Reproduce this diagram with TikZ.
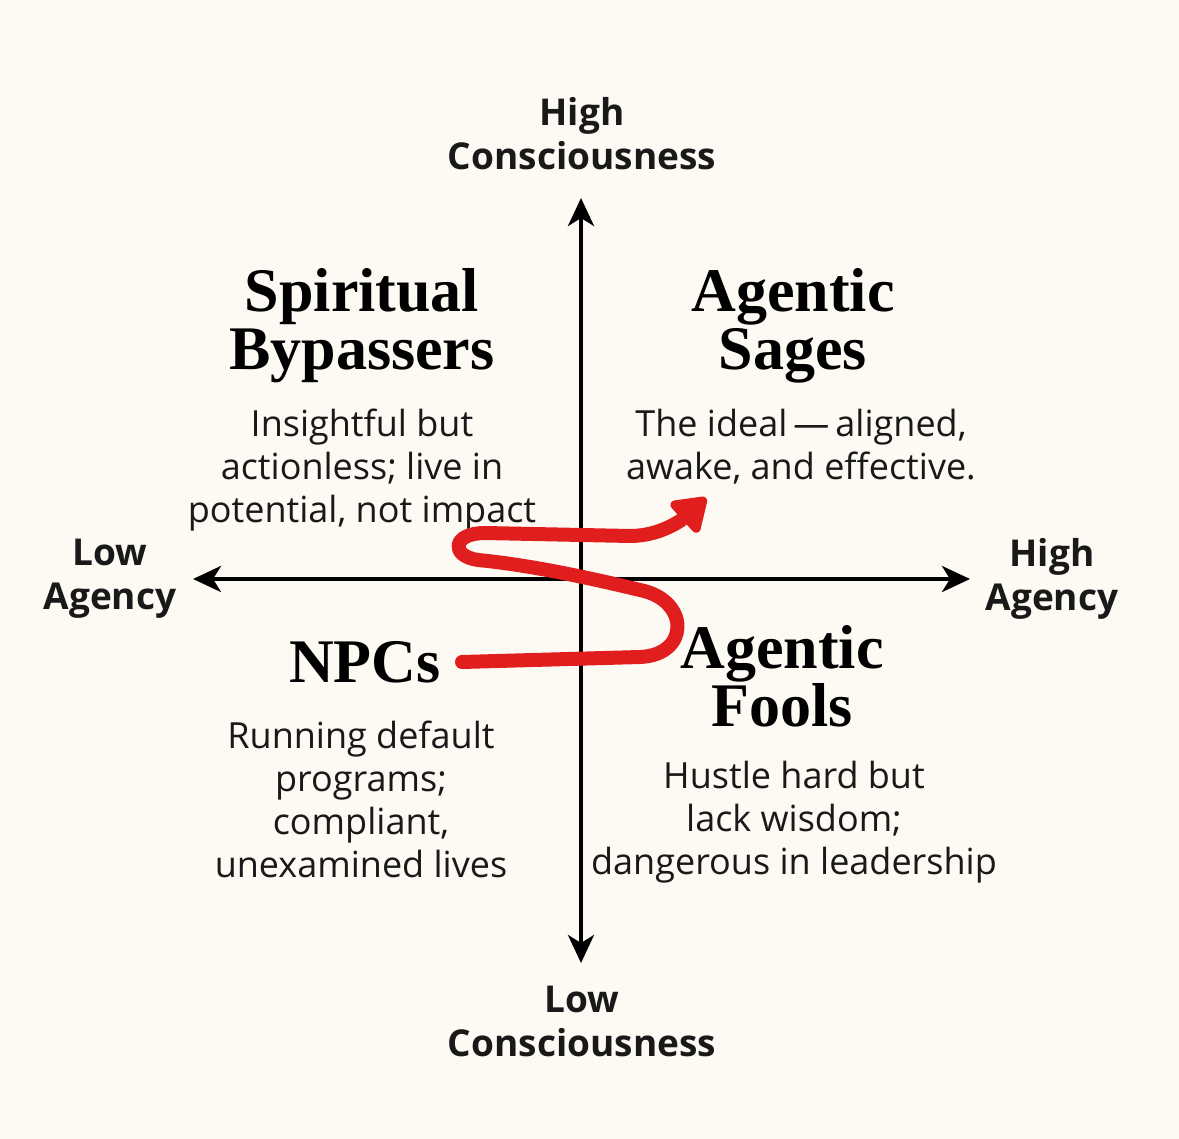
\documentclass[tikz,border=0pt]{standalone}
\usepackage{fontspec}
\setmainfont{Open Sans}
\newfontfamily\titlefont{Liberation Serif}
\usetikzlibrary{arrows.meta,positioning}

\definecolor{paper}{HTML}{FDF9F3}
\definecolor{inkred}{HTML}{E01E1E}

\tikzset{
  axislabel/.style={font=\fontsize{18.5}{22}\selectfont\bfseries, align=center, text=black!90},
  quadtitle/.style={font=\titlefont\fontsize{31}{29}\selectfont\bfseries, align=center},
  quadtext/.style={font=\fontsize{18}{21.5}\selectfont, align=center, text=black!90},
  axisline/.style={line width=2pt, -{Stealth[length=14pt,width=13pt,inset=4pt]}},
}

\begin{document}
\begin{tikzpicture}[x=0.5pt, y=-0.5pt]
      % Nen
      \fill[paper] (0,0) rectangle (1179,1139);
      \useasboundingbox (0,0) rectangle (1179,1139);

      % Nhan truc
      \node[axislabel] (hic) at (582,134) {High\\Consciousness};
      \node[axislabel] (loc) at (582,1021) {Low\\Consciousness};
      \node[axislabel] (loa) at (110,579) {Low\\Agency};
      \node[axislabel] (hia) at (1052,579) {High\\Agency};

      % Truc
      \coordinate (c) at (581,579);
      \coordinate (top) at (581,198);
      \coordinate (bot) at (581,963);
      \coordinate (lft) at (193,579);
      \coordinate (rgt) at (970,579);
      \draw[axisline] (c) -- (top);
      \draw[axisline] (c) -- (bot);
      \draw[axisline] (c) -- (lft);
      \draw[axisline] (c) -- (rgt);

      % Goc phan tu tren trai
      \node[quadtitle] (sb) at (362,326) {Spiritual\\Bypassers};
      \node[quadtext, below=6pt of sb] (sbt) {Insightful but\\actionless; live in\\potential, not impact};

      % Goc phan tu tren phai
      \node[quadtitle] (as) at (793,326) {Agentic\\Sages};
      \node[quadtext, below=6pt of as, xshift=4pt] (ast) {The ideal\,---\,aligned,\\awake, and effective.};

      % Goc phan tu duoi trai
      \node[quadtitle] (npc) at (365,662) {NPCs};
      \node[quadtext, below=12pt of npc, xshift=-2pt] (npct) {Running default\\programs;\\compliant,\\unexamined lives};

      % Goc phan tu duoi phai
      \node[quadtitle] (af) at (782,676) {Agentic\\Fools};
      \node[quadtext, below=10pt of af, xshift=6pt] (aft) {Hustle hard but\\lack wisdom;\\dangerous in leadership};

      % Duong cong do
      \coordinate (s0) at (462,662);
      \coordinate (s1) at (706,498);
      \draw[inkred, line width=7pt, line cap=round, line join=round,
            -{Triangle[length=18pt,width=23pt,round]}]
        (s0) -- (640,657) .. controls (690,655) and (690,600) .. (640,590)
        .. controls (590,578) and (530,565) .. (478,560)
        .. controls (450,556) and (452,533) .. (485,533)
        -- (630,536) .. controls (662,536) and (684,518) .. (s1);
\end{tikzpicture}
\end{document}
